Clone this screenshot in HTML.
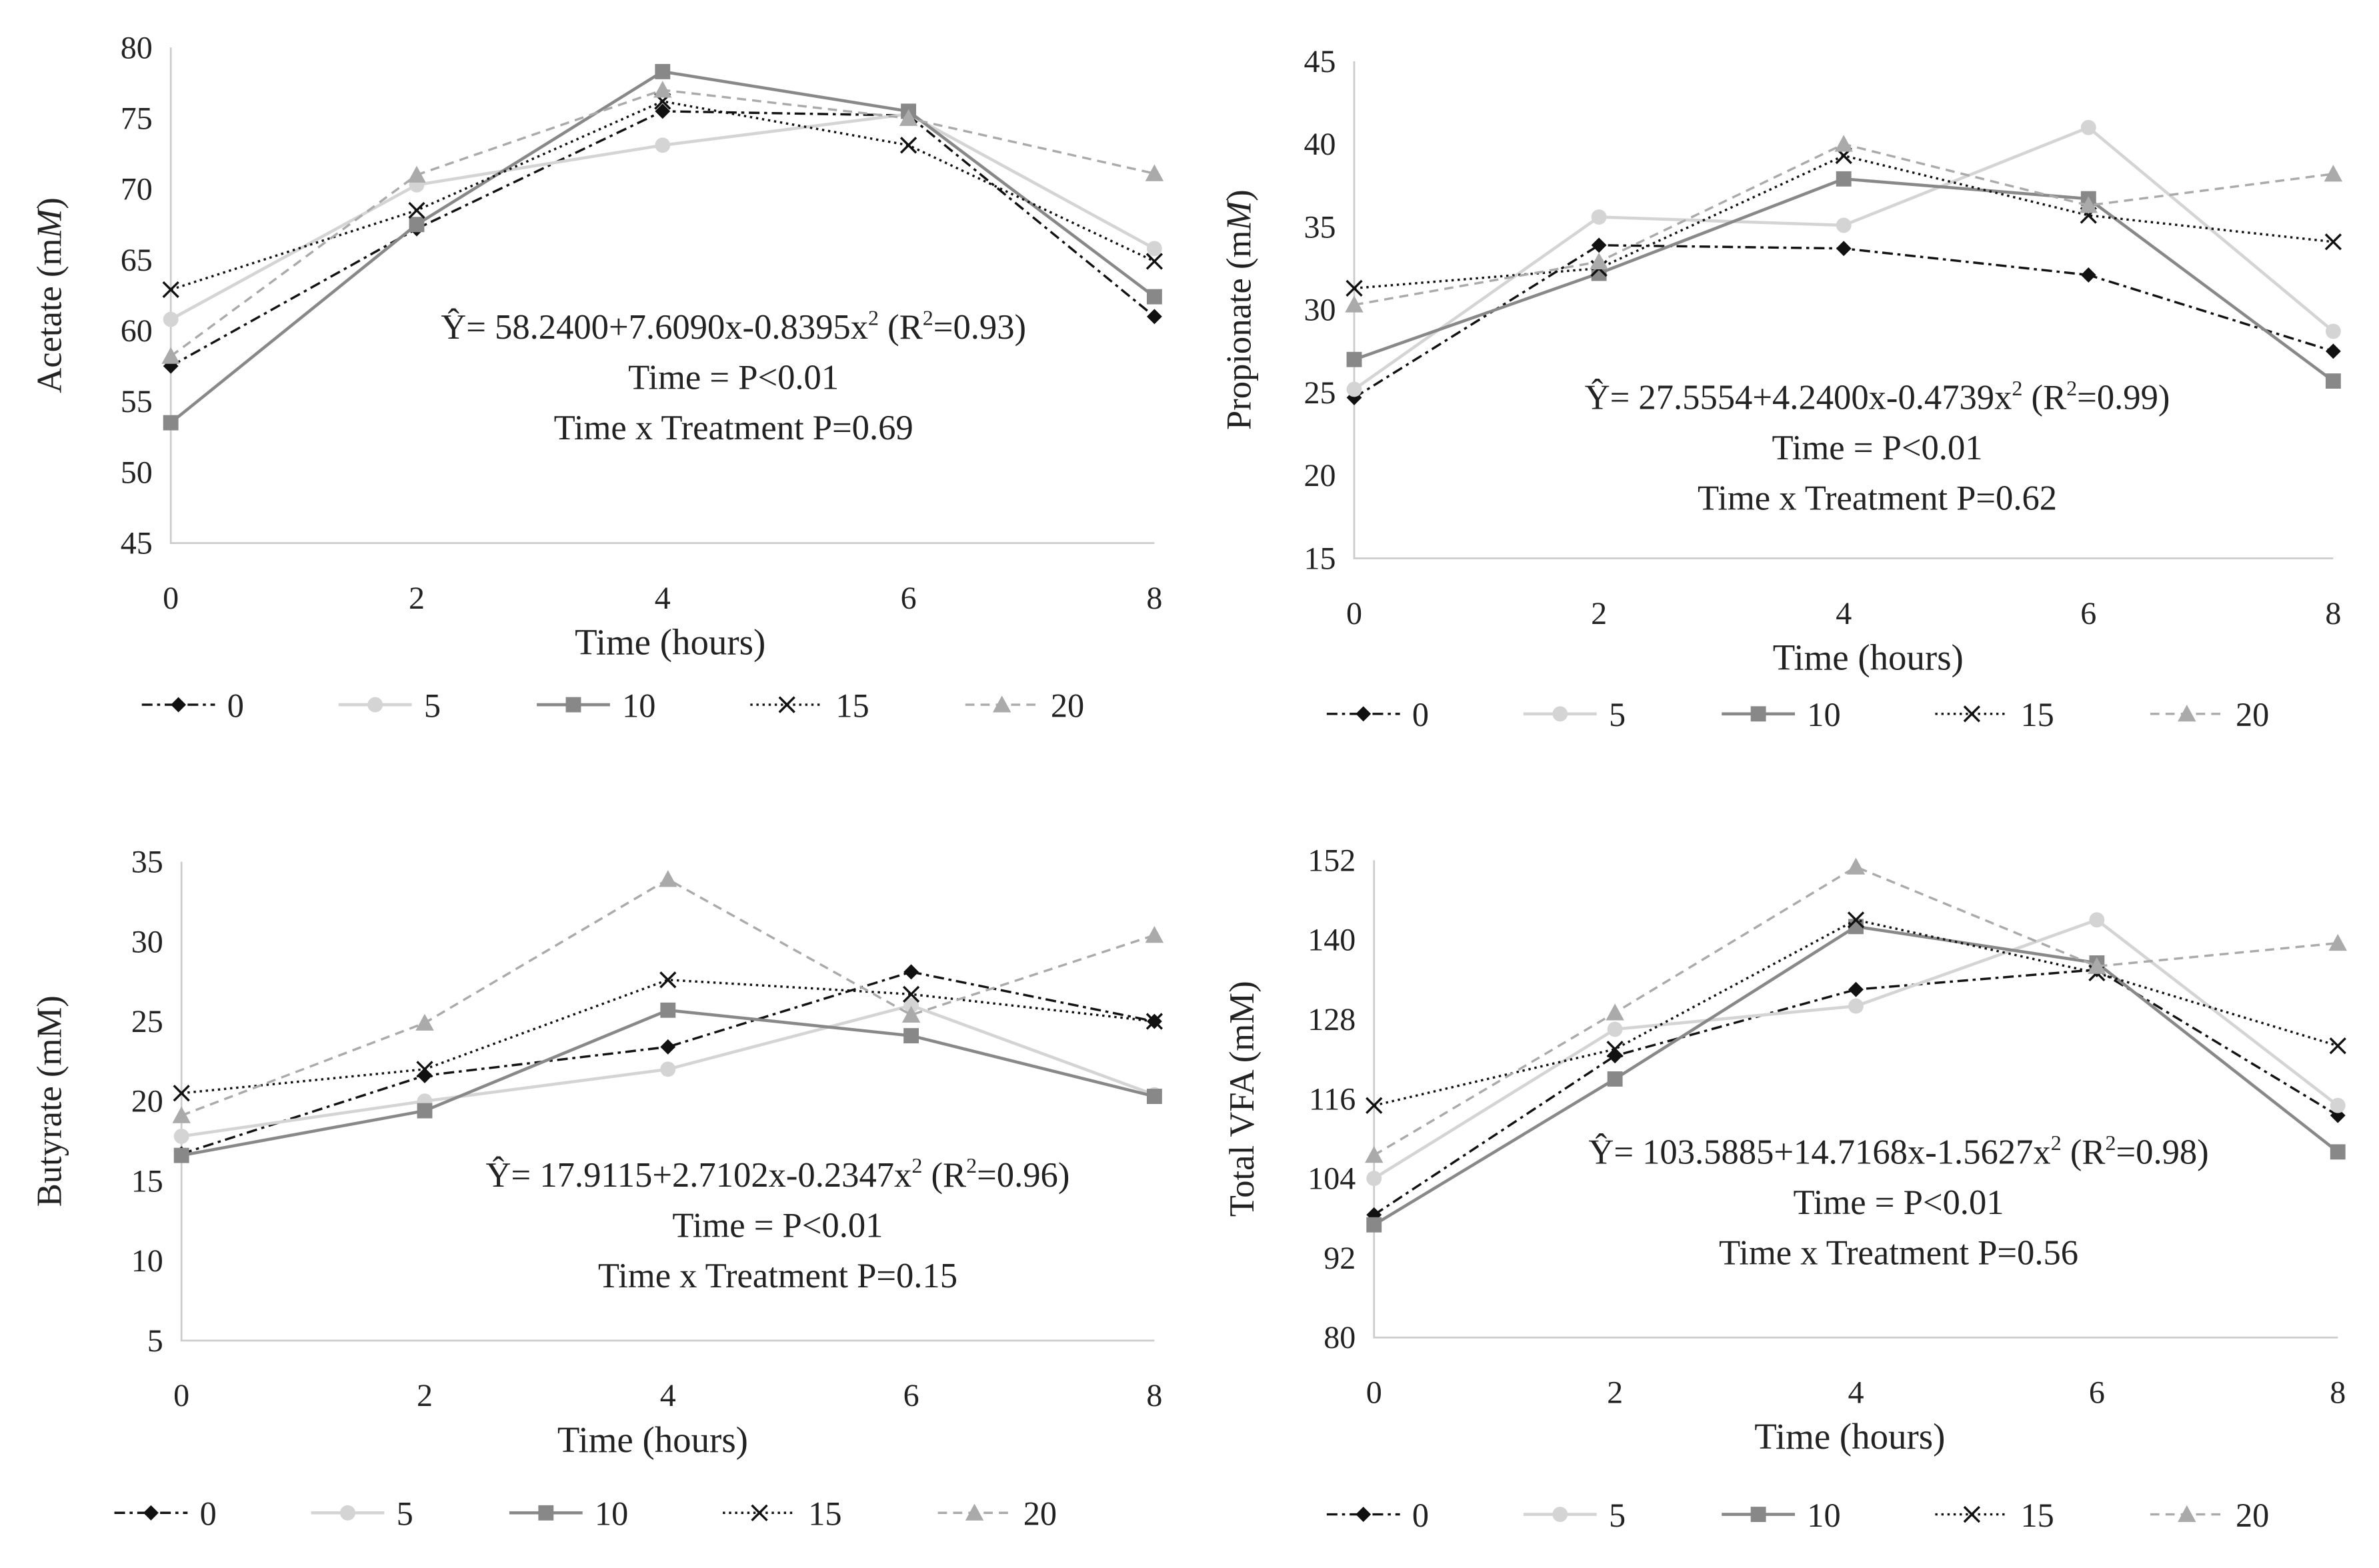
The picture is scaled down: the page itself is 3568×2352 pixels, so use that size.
<!DOCTYPE html>
<html><head><meta charset="utf-8"><style>
html,body{margin:0;padding:0;background:#fff}
svg{display:block}
text{font-family:"Liberation Serif",serif;fill:#222}
</style></head><body>
<svg id="chart" width="3568" height="2352" viewBox="0 0 1560 1028" xmlns="http://www.w3.org/2000/svg"></svg>
<script>
const xCats=[0,2,4,6,8];
const seriesNames=["0","5","10","15","20"];
const acetate0=[57.5,67.2,75.5,75.2,61.0];
const acetate5=[60.8,70.3,73.1,75.3,65.8];
const acetate10=[53.5,67.5,78.3,75.5,62.4];
const acetate15=[62.9,68.5,76.2,73.1,64.9];
const acetate20=[58.2,71.0,77.0,75.0,71.1];
const prop0=[24.7,33.9,33.7,32.1,27.5];
const prop5=[25.2,35.6,35.1,41.0,28.7];
const prop10=[27.0,32.2,37.9,36.7,25.7];
const prop15=[31.3,32.5,39.3,35.7,34.1];
const prop20=[30.3,32.9,40.0,36.3,38.2];
const but0=[16.7,21.6,23.4,28.1,25.0];
const but5=[17.8,20.0,22.0,26.0,20.4];
const but10=[16.6,19.4,25.7,24.1,20.3];
const but15=[20.5,22.0,27.6,26.7,25.0];
const but20=[19.1,24.9,33.9,25.4,30.4];
const tot0=[98.5,122.5,132.5,135.5,113.5];
const tot5=[104,126.5,130,143,115];
const tot10=[97,119,142,136.5,108];
const tot15=[115,123.5,143,135,124];
const tot20=[107.5,129,151,136,139.5];
const acetateTicks=[45,50,55,60,65,70,75,80];
const propTicks=[15,20,25,30,35,40,45];
const butTicks=[5,10,15,20,25,30,35];
const totTicks=[80,92,104,116,128,140,152];

const NS="http://www.w3.org/2000/svg";
const svg=document.getElementById('chart');
function mk(tag,attrs,parent,txt){const e=document.createElementNS(NS,tag);for(const k in attrs)e.setAttribute(k,attrs[k]);if(txt!==undefined)e.textContent=txt;(parent||svg).appendChild(e);return e;}
const styles=[
 {color:"#111",dash:"7,3,2,3",w:1.5,marker:"diamond"},
 {color:"#d4d4d4",dash:"",w:2,marker:"circle"},
 {color:"#888",dash:"",w:2,marker:"square"},
 {color:"#111",dash:"1.5,2.5",w:1.5,marker:"x"},
 {color:"#aaa",dash:"6,4",w:1.5,marker:"triangle"}];
function marker(g,m,x,y,c){
 let e;
 if(m==="diamond")e=mk('polygon',{points:`${x},${y-5} ${x+5},${y} ${x},${y+5} ${x-5},${y}`,fill:c},g);
 else if(m==="circle")e=mk('circle',{cx:x,cy:y,r:5,fill:c},g);
 else if(m==="square")e=mk('rect',{x:x-5,y:y-5,width:10,height:10,fill:c},g);
 else if(m==="triangle")e=mk('polygon',{points:`${x},${y-6} ${x+6},${y+5} ${x-6},${y+5}`,fill:c},g);
 else{e=mk('path',{d:`M${x-5},${y-5}L${x+5},${y+5}M${x+5},${y-5}L${x-5},${y+5}`,stroke:c,'stroke-width':1.5,fill:'none'},g);}
 
 
}
function panel(cfg){
 const g=mk('g',{},svg);
 
 
 const ticks=cfg.ticks,ymin=ticks[0],ymax=ticks[ticks.length-1];
 const X=v=>cfg.x0+(v-xCats[0])/(xCats[xCats.length-1]-xCats[0])*(cfg.x1-cfg.x0);
 const Y=v=>cfg.yb+(v-ymin)/(ymax-ymin)*(cfg.yt-cfg.yb);
 const ax=mk('path',{d:`M${cfg.x0},${cfg.yt}V${cfg.yb}H${cfg.x1}`,stroke:'#ccc','stroke-width':1.2,fill:'none'},g);
 
 
 ticks.forEach(t=>{const e=mk('text',{x:cfg.x0-12,y:Y(t)+7,'text-anchor':'end','font-size':21},g,String(t));
  });
 xCats.forEach(c=>{const e=mk('text',{x:X(c),y:cfg.yb+43,'text-anchor':'middle','font-size':21},g,String(c));
  });
 const xt=mk('text',{x:(cfg.x0+cfg.x1)/2+cfg.xtOff,y:cfg.yb+73,'text-anchor':'middle','font-size':24},g,'Time (hours)');
 
 const yt=mk('text',{x:0,y:0,'text-anchor':'middle','font-size':23,transform:`translate(${cfg.ytx},${(cfg.yt+cfg.yb)/2}) rotate(-90)`},g);
 
 if(cfg.italicM){yt.appendChild(document.createTextNode(cfg.ylab+' (m'));
 mk('tspan',{'font-style':'italic'},yt,'M');
 yt.appendChild(document.createTextNode(')'));}
 else yt.textContent=cfg.ylab+' (mM)';
 cfg.series.forEach((vals,i)=>{
  const s=styles[i];
  const sg=mk('g',{},g);
  
  
  const pl=mk('polyline',{points:vals.map((v,j)=>X(xCats[j])+','+Y(v)).join(' '),fill:'none',stroke:s.color,'stroke-width':s.w,'stroke-dasharray':s.dash},sg);
  
  vals.forEach((v,j)=>marker(sg,s.marker,X(xCats[j]),Y(v),s.color));
 });
 cfg.eq.forEach((t,k)=>{
  const e=mk('text',{x:cfg.eqx,y:cfg.eqy+k*33,'text-anchor':'middle','font-size':23},g);
  
  if(k===0){e.appendChild(document.createTextNode(t[0]));mk('tspan',{'font-size':14,dy:-9},e,'2');
   mk('tspan',{dy:9},e,t[1]);mk('tspan',{'font-size':14,dy:-9},e,'2');mk('tspan',{dy:9},e,t[2]);}
  else e.textContent=t;
 });
 const lg=mk('g',{},g);
 
 seriesNames.forEach((n,i)=>{
  const s=styles[i];const off=[0,129,259,399,540][i];const lx=cfg.legx+off;
  const eg=mk('g',{},lg);
  
  mk('line',{x1:lx,y1:cfg.legy,x2:lx+48,y2:cfg.legy,stroke:s.color,'stroke-width':s.w,'stroke-dasharray':s.dash},eg);
  marker(eg,s.marker,lx+24,cfg.legy,s.color);
  mk('text',{x:lx+56,y:cfg.legy+8,'font-size':22},eg,n);
 });
}
panel({name:'acetate-chart',x0:112,x1:757,yt:31,yb:356,ticks:acetateTicks,ylab:'Acetate',italicM:true,ytx:40,xtOff:5,
 series:[acetate0,acetate5,acetate10,acetate15,acetate20],
 eq:[["Ŷ= 58.2400+7.6090x-0.8395x"," (R","=0.93)"],"Time = P<0.01","Time x Treatment P=0.69"],eqx:481,eqy:222,legx:93,legy:462});
panel({name:'propionate-chart',x0:888,x1:1530,yt:40,yb:366,ticks:propTicks,ylab:'Propionate',italicM:true,ytx:820,xtOff:16,
 series:[prop0,prop5,prop10,prop15,prop20],
 eq:[["Ŷ= 27.5554+4.2400x-0.4739x"," (R","=0.99)"],"Time = P<0.01","Time x Treatment P=0.62"],eqx:1231,eqy:268,legx:870,legy:468});
panel({name:'butyrate-chart',x0:119,x1:757,yt:565,yb:879,ticks:butTicks,ylab:'Butyrate',italicM:false,ytx:40,xtOff:-10,
 series:[but0,but5,but10,but15,but20],
 eq:[["Ŷ= 17.9115+2.7102x-0.2347x"," (R","=0.96)"],"Time = P<0.01","Time x Treatment P=0.15"],eqx:510,eqy:778,legx:75,legy:992});
panel({name:'total-vfa-chart',x0:901,x1:1533,yt:564,yb:877,ticks:totTicks,ylab:'Total VFA',italicM:false,ytx:822,xtOff:-4,
 series:[tot0,tot5,tot10,tot15,tot20],
 eq:[["Ŷ= 103.5885+14.7168x-1.5627x"," (R","=0.98)"],"Time = P<0.01","Time x Treatment P=0.56"],eqx:1245,eqy:763,legx:870,legy:993});
</script>
</body></html>
